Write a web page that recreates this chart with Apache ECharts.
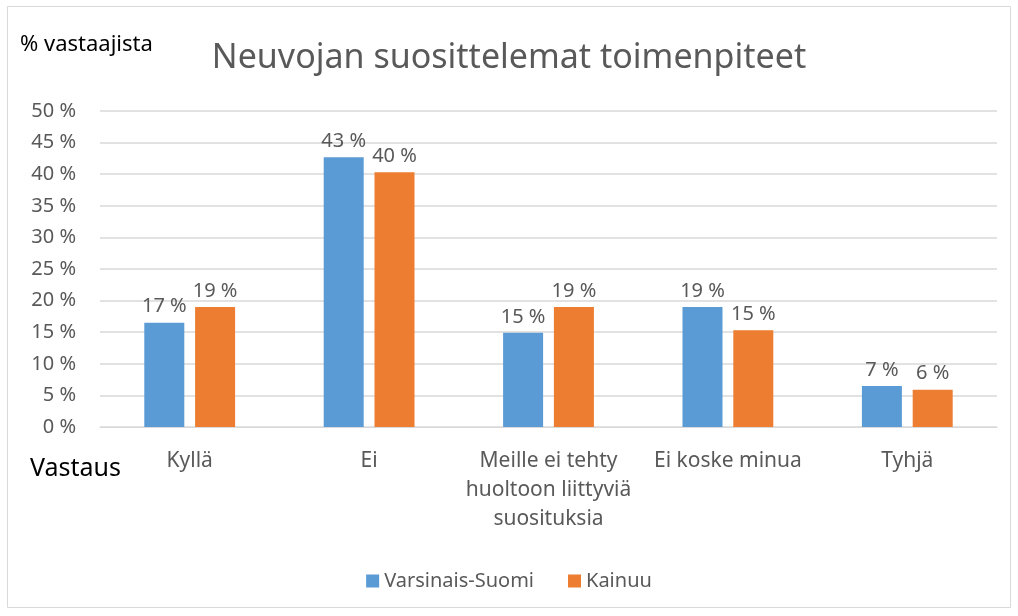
<!DOCTYPE html>
<html>
<head>
<meta charset="utf-8">
<script src="https://cdn.jsdelivr.net/npm/echarts@6/dist/echarts.min.js"></script>
<style>
  html, body { margin: 0; padding: 0; background: #fff; }
  #main { width: 1018px; height: 616px; }
</style>
</head>
<body>
<div id="main"></div>
<script>
// vastausvaihtoehdot
const categories = ['Kyllä', 'Ei', 'Meille ei tehty\nhuoltoon liittyviä\nsuosituksia', 'Ei koske minua', 'Tyhjä'];
const varsinaisSuomi = [16.5, 42.7, 14.9, 19.0, 6.5];
const kainuu = [19.0, 40.3, 19.0, 15.3, 5.9];
const seriesNames = ['Varsinais-Suomi', 'Kainuu'];

const font = 'Noto Sans';
const grey = '#595959';

let chart = echarts.init(document.getElementById('main'));

const labelOpt = {
  show: true,
  position: 'top',
  distance: 6,
  color: grey,
  fontSize: 20,
  fontFamily: font,
  formatter: p => Math.round(p.value) + ' %'
};

chart.setOption({
  animation: false,
  textStyle: { fontFamily: font },
  title: {
    text: 'Neuvojan suosittelemat toimenpiteet',
    left: 'center',
    top: 36,
    textStyle: { fontSize: 34, fontWeight: 'normal', color: grey, fontFamily: font }
  },
  graphic: [
    {
      type: 'rect',
      shape: { x: 7.5, y: 6.5, width: 1003, height: 601 },
      style: { fill: 'none', stroke: '#d9d9d9', lineWidth: 1 }
    },
    {
      type: 'text', left: 20, top: 34,
      style: { text: '% vastaajista', fontSize: 22, fill: '#000', fontFamily: font }
    },
    {
      type: 'text', left: 30, top: 456,
      style: { text: 'Vastaus', fontSize: 25, fill: '#000', fontFamily: font }
    }
  ],
  legend: {
    bottom: 20,
    left: 'center',
    itemWidth: 13,
    itemHeight: 13,
    itemGap: 34,
    icon: 'rect',
    textStyle: { fontSize: 20, color: grey, fontFamily: font },
    data: seriesNames
  },
  grid: { left: 100, right: 21, top: 111, bottom: 189, containLabel: false },
  xAxis: {
    type: 'category',
    data: categories,
    axisLine: { lineStyle: { color: '#d9d9d9' } },
    axisTick: { show: false },
    axisLabel: { color: grey, fontSize: 21, fontFamily: font, lineHeight: 29, margin: 20, interval: 0 }
  },
  yAxis: {
    type: 'value',
    min: 0,
    max: 50,
    interval: 5,
    axisLine: { show: false },
    axisTick: { show: false },
    splitLine: { lineStyle: { color: '#d9d9d9', width: 1.5 } },
    axisLabel: { color: grey, fontSize: 20, fontFamily: font, margin: 24, formatter: v => v + ' %' }
  },
  series: [
    {
      name: seriesNames[0],
      type: 'bar',
      data: varsinaisSuomi,
      barWidth: 40,
      barGap: '27%',
      itemStyle: { color: '#5B9BD5' },
      label: labelOpt
    },
    {
      name: seriesNames[1],
      type: 'bar',
      data: kainuu,
      barWidth: 40,
      itemStyle: { color: '#ED7D31' },
      label: labelOpt
    }
  ]
});
</script>
</body>
</html>
